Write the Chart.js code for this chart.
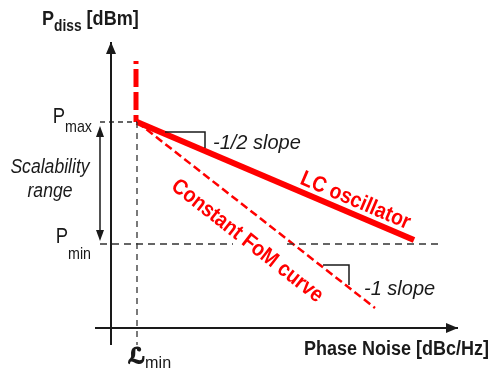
<!DOCTYPE html>
<html>
<head>
<meta charset="utf-8">
<script src="https://cdn.jsdelivr.net/npm/chart.js@4.4.0/dist/chart.umd.min.js"></script>
<style>
  html, body { margin: 0; padding: 0; background: #fff; }
  #wrap { width: 492px; height: 376px; }
</style>
</head>
<body>
<div id="wrap"><canvas id="chart" width="492" height="376"></canvas></div>
<script>
// sketch values in arbitrary units, origin at the axis crossing
var lMin = 2.6;
var pMax = 20.6;
var pMin = 8.4;

// LC oscillator (-1/2 slope) and constant FoM curve (-1 slope)
var lcX = [2.6, 30.3];
var lcY = [20.6, 8.8];
var fomX = [2.6, 26.4];
var fomY = [20.6, 2.0];

// dash-dot red segment above Pmax
var startX = [2.5, 2.5];
var startY = [26.7, 20.6];

// slope triangles
var halfSlopeX = [5.4, 9.4, 9.4];
var halfSlopeY = [19.6, 19.6, 18.0];
var oneSlopeX = [21.2, 23.8, 23.8];
var oneSlopeY = [6.3, 6.3, 4.3];

// axes and guides
var xAxisX = [-1.6, 34.7];
var yAxisY = [-1.7, 28.6];
var pMaxGuideX = [-1.1, 2.6];
var pMinGuideX = [-1.1, 12.2, 17.6, 32.9];
var lMinGuideY = [20.6, -1.7];
var rangeX = -1.1;
var rangeY = [20.2, 8.7];

var RED = 'rgb(255,0,0)';
var INK = '#1a1a1a';

function pts(xs, ys) {
	var out = [];
	for (var i = 0; i < xs.length; i++) {
		out.push({x: xs[i], y: ys[i]});
	}
	return out;
}

function lineSet(data, color, width, dash, offset) {
	return {
		type: 'line',
		data: data,
		borderColor: color,
		borderWidth: width,
		borderDash: dash || [],
		borderDashOffset: offset || 0,
		pointRadius: 0,
		fill: false,
		tension: 0
	};
}

//draw a row of text runs, squeezed horizontally (narrow font look)
function drawRuns(ctx, runs, x, y, align, squeeze) {
	var total = 0;
	runs.forEach(function(r) {
		ctx.font = r.font;
		r.w = ctx.measureText(r.t).width * squeeze;
		total += r.w;
	});
	var cx = x;
	if (align === 'right') cx = x - total;
	if (align === 'center') cx = x - total / 2;
	runs.forEach(function(r) {
		ctx.save();
		ctx.font = r.font;
		ctx.fillStyle = r.color || INK;
		ctx.textAlign = 'left';
		ctx.textBaseline = 'alphabetic';
		ctx.translate(cx, y + (r.dy || 0));
		ctx.scale(squeeze, 1);
		ctx.fillText(r.t, 0, 0);
		if (r.heavy) {
			//fake bold for glyphs without a bold face
			ctx.strokeStyle = r.color || INK;
			ctx.lineWidth = r.heavy;
			ctx.strokeText(r.t, 0, 0);
		}
		ctx.restore();
		cx += r.w;
	});
}

function arrowHead(ctx, tip, dirx, diry, len, half) {
	var bx = tip.x - dirx * len, by = tip.y - diry * len;
	ctx.beginPath();
	ctx.moveTo(tip.x, tip.y);
	ctx.lineTo(bx - diry * half, by + dirx * half);
	ctx.lineTo(bx + diry * half, by - dirx * half);
	ctx.closePath();
	ctx.fill();
}

var sketchPlugin = {
	id: 'sketch',
	afterDatasetsDraw: function(chart) {
		var ctx = chart.ctx;
		var sx = chart.scales.x, sy = chart.scales.y;
		function P(x, y) { return {x: sx.getPixelForValue(x), y: sy.getPixelForValue(y)}; }
		ctx.save();
		ctx.fillStyle = INK;

		// arrow heads on the axes
		arrowHead(ctx, P(0, yAxisY[1]), 0, -1, 12, 5);
		arrowHead(ctx, P(xAxisX[1], 0), 1, 0, 12, 5);
		// scalability range double arrow
		arrowHead(ctx, P(rangeX, rangeY[0]), 0, -1, 11, 4);
		arrowHead(ctx, P(rangeX, rangeY[1]), 0, 1, 11, 4);

		var bold = 'bold ';
		var sans = 'px "Liberation Sans", Arial, sans-serif';

		// y axis title
		drawRuns(ctx, [
			{t: 'P', font: bold + '21' + sans},
			{t: 'diss', font: bold + '16' + sans, dy: 6},
			{t: ' [dBm]', font: bold + '21' + sans}
		], 42, 25, 'left', 0.86);

		// x axis title
		drawRuns(ctx, [{t: 'Phase Noise [dBc/Hz]', font: bold + '20' + sans}], 489, 355, 'right', 0.9);

		// Pmax / Pmin
		var pm = P(0, pMax), pn = P(0, pMin);
		drawRuns(ctx, [
			{t: 'P', font: '22' + sans},
			{t: 'max', font: '17' + sans, dy: 9}
		], 92, pm.y + 1, 'right', 0.84);
		drawRuns(ctx, [
			{t: 'P', font: '22' + sans},
			{t: 'min', font: '17' + sans, dy: 16}
		], 91, pn.y - 1, 'right', 0.84);

		// Scalability range
		drawRuns(ctx, [{t: 'Scalability', font: 'italic 20' + sans}], 50, 173, 'center', 0.88);
		drawRuns(ctx, [{t: 'range', font: 'italic 20' + sans}], 50, 197, 'center', 0.88);

		// L min
		var lm = P(lMin, 0);
		drawRuns(ctx, [
			{t: '\u2112', font: 'bold 21px "DejaVu Sans", sans-serif', heavy: 1.6},
			{t: 'min', font: '17' + sans, dy: 5}
		], lm.x - 9, 363, 'left', 0.95);

		// slope labels
		var hs = P(halfSlopeX[1], halfSlopeY[1]);
		drawRuns(ctx, [{t: '-1/2 slope', font: 'italic 20' + sans}], hs.x + 8, hs.y + 17, 'left', 1);
		var os = P(oneSlopeX[1], oneSlopeY[1]);
		drawRuns(ctx, [{t: '-1 slope', font: 'italic 20' + sans}], os.x + 15, os.y + 30, 'left', 1);

		// rotated curve labels
		function along(xs, ys, t, off, text) {
			var a = P(xs[0], ys[0]), b = P(xs[1], ys[1]);
			var ang = Math.atan2(b.y - a.y, b.x - a.x);
			ctx.save();
			ctx.translate(a.x + (b.x - a.x) * t, a.y + (b.y - a.y) * t);
			ctx.rotate(ang);
			drawRuns(ctx, [{t: text, font: bold + '22' + sans, color: RED}], 0, off, 'center', 0.88);
			ctx.restore();
		}
		along(lcX, lcY, 0.77, -7, 'LC oscillator');
		along(fomX, fomY, 0.53, 32, 'Constant FoM curve');

		ctx.restore();
	}
};

var ctx = document.getElementById('chart').getContext('2d');
var chart = new Chart(ctx, {
	type: 'scatter',
	data: {
		datasets: [
			lineSet(pts(xAxisX, [0, 0]), INK, 2),
			lineSet(pts([0, 0], yAxisY), INK, 2),
			lineSet(pts(pMaxGuideX, [pMax, pMax]), '#333', 1.3, [5, 4]),
			lineSet(pts(pMinGuideX.slice(0, 2), [pMin, pMin]), '#333', 1.3, [7, 5]),
			lineSet(pts(pMinGuideX.slice(2), [pMin, pMin]), '#333', 1.3, [7, 5]),
			lineSet(pts([lMin, lMin], lMinGuideY), '#333', 1.3, [6, 5]),
			lineSet(pts([rangeX, rangeX], [rangeY[0] - 1.0, rangeY[1] + 1.0]), INK, 1.5),
			lineSet(pts(halfSlopeX, halfSlopeY), INK, 1.5),
			lineSet(pts(oneSlopeX, oneSlopeY), INK, 1.5),
			lineSet(pts(fomX, fomY), RED, 2.5, [8, 4]),
			lineSet(pts(startX, startY), RED, 5, [18, 5], 15),
			lineSet(pts(lcX, lcY), RED, 6)
		]
	},
	options: {
		responsive: false,
		devicePixelRatio: 1,
		animation: false,
		layout: {padding: 0},
		plugins: {legend: {display: false}, tooltip: {enabled: false}},
		scales: {
			x: {type: 'linear', display: false, min: -11.1, max: 38.1},
			y: {type: 'linear', display: false, min: -4.8, max: 32.8}
		}
	},
	plugins: [sketchPlugin]
});
</script>
</body>
</html>
